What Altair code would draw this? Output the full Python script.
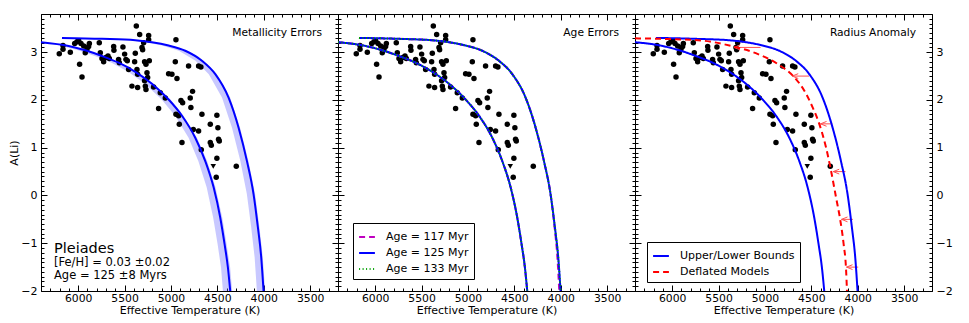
import altair as alt
import pandas as pd

W, H = 297, 277
FONT = "DejaVu Sans"

# ---------------- data ----------------
star_T = [6203, 6163, 6163, 6084, 6037, 6012, 5994, 5969, 5984, 5958, 5940, 5923, 5905, 5879, 5887,
          5772, 5761, 5743, 5725, 5700, 5678, 5664, 5617, 5614, 5564, 5556, 5517, 5499, 5485, 5470,
          5456, 5420, 5391, 5384, 5373, 5359, 5366, 5359, 5337, 5312, 5305, 5294, 5284, 5269, 5284,
          5276, 5269, 5258, 5251, 5240, 5240, 5233, 5187, 5115, 5133, 5061, 5025, 4989, 4946, 4953,
          4935, 4946, 4917, 4910, 4881, 4892, 4874, 4810, 4792, 4785, 4767, 4759, 4702, 4702, 4677,
          4666, 4673, 4576, 4576, 4565, 4505, 4494, 4487, 4479, 4505, 4512, 4296]
star_A = [2.97, 3.14, 3.06, 3.00, 3.18, 3.22, 3.24, 3.18, 2.75, 2.48, 3.13, 2.99, 3.06, 3.18, 3.12,
          3.20, 2.99, 2.87, 2.80, 2.89, 2.92, 2.87, 3.12, 3.04, 2.85, 2.78, 3.11, 2.96, 2.85, 2.82,
          2.64, 2.29, 2.80, 2.98, 3.55, 2.26, 2.64, 2.54, 3.37, 3.10, 3.05, 3.20, 2.80, 2.75, 2.40,
          2.29, 2.22, 2.57, 2.47, 3.35, 3.26, 2.82, 2.27, 2.15, 1.82, 2.04, 2.55, 2.54, 3.26, 2.80,
          2.45, 1.70, 1.67, 1.49, 1.11, 1.99, 1.94, 2.71, 2.04, 1.84, 2.18, 1.38, 1.35, 2.71, 2.69,
          1.70, 0.96, 1.49, 1.11, 1.05, 1.68, 1.42, 1.18, 1.14, 0.78, 0.38, 0.61]
limit_T = [4544]
limit_A = [0.61]

lower_T = [6400, 6102, 5923, 5743, 5564, 5384, 5205, 5025, 4881, 4738, 4630, 4540, 4469, 4422, 4386, 4361]
lower_A = [3.21, 3.13, 3.04, 2.92, 2.78, 2.59, 2.34, 2.01, 1.67, 1.21, 0.72, 0.17, -0.46, -1.02, -1.51, -2.0]
upper_T = [6174, 5743, 5384, 5205, 5025, 4846, 4666, 4522, 4379, 4271, 4181, 4110, 4063, 4027, 4002]
upper_A = [3.30, 3.28, 3.25, 3.21, 3.14, 3.03, 2.82, 2.54, 2.05, 1.42, 0.72, 0.03, -0.67, -1.30, -2.0]

# metallicity error bands (hot edge, cool edge at given A)
band_lo_A = [3.13, 3.04, 2.92, 2.78, 2.59, 2.34, 2.01, 1.67, 1.21, 0.72, 0.17, -0.46, -1.02, -1.51, -2.0]
band_lo_hot = [6180, 6000, 5820, 5640, 5460, 5280, 5100, 4955, 4810, 4705, 4615, 4545, 4497, 4460, 4440]
band_lo_cool = [6085, 5905, 5725, 5545, 5365, 5185, 5005, 4865, 4720, 4610, 4520, 4447, 4400, 4362, 4340]
band_up_A = [3.28, 3.25, 3.21, 3.14, 3.03, 2.82, 2.54, 2.05, 1.42, 0.72, 0.03, -0.67, -1.30, -2.0]
band_up_hot = [5815, 5455, 5275, 5095, 4915, 4735, 4592, 4450, 4342, 4252, 4182, 4135, 4098, 4074]
band_up_cool = [5725, 5365, 5185, 5005, 4828, 4650, 4505, 4362, 4255, 4165, 4093, 4046, 4010, 3985]

# age errors: 117 Myr upper branch drifts slightly hotter at the bottom
age117_upper_T = [6174, 5743, 5384, 5205, 5025, 4846, 4666, 4522, 4379, 4271, 4181, 4110, 4066, 4036, 4016]
age117_upper_A = [3.30, 3.28, 3.25, 3.21, 3.14, 3.03, 2.82, 2.54, 2.05, 1.42, 0.72, 0.03, -0.67, -1.30, -2.0]
age_labels = ["Age = 117 Myr", "Age = 125 Myr", "Age = 133 Myr"]
age_colors = ["#bf00bf", "#0000ff", "#00a000"]

# radius anomaly: deflated model
red_T = [6400, 5720, 5362, 5075, 4860, 4681, 4574, 4485, 4413, 4341, 4288, 4234, 4187, 4152, 4127, 4116]
red_A = [3.29, 3.25, 3.13, 2.96, 2.75, 2.47, 2.19, 1.84, 1.49, 1.00, 0.52, -0.04, -0.53, -1.02, -1.51, -2.0]
arrow_A = [3.1, 2.5, 1.5, 0.5, -0.5, -1.5]
arrow_from = [5047, 4526, 4275, 4132, 4052, 3995]
arrow_to = [5334, 4706, 4401, 4264, 4175, 4121]
rad_labels = ["Upper/Lower Bounds", "Deflated Models"]

x_major = [3500, 4000, 4500, 5000, 5500, 6000]
x_minor = list(range(3200, 6401, 100))
y_major = [-2, -1, 0, 1, 2, 3]
y_minor = [round(-2 + 0.1 * i, 1) for i in range(59)]

# ---------------- tables ----------------
stars = pd.DataFrame({"T": star_T, "A": star_A})
limits = pd.DataFrame({"T": limit_T, "A": limit_A})
dummy = pd.DataFrame({"T": [6400], "A": [-2.0]})

curves = pd.concat([
    pd.DataFrame({"T": lower_T, "A": lower_A, "part": "lower"}),
    pd.DataFrame({"T": upper_T, "A": upper_A, "part": "upper"}),
])
band_lo = pd.DataFrame({"A": band_lo_A, "hot": band_lo_hot, "cool": band_lo_cool})
band_up = pd.DataFrame({"A": band_up_A, "hot": band_up_hot, "cool": band_up_cool})
age_rows = []
for lab in age_labels:
    age_rows.append(pd.DataFrame({"T": lower_T, "A": lower_A, "part": "lower", "series": lab}))
    if lab == "Age = 117 Myr":
        age_rows.append(pd.DataFrame({"T": age117_upper_T, "A": age117_upper_A, "part": "upper", "series": lab}))
    else:
        age_rows.append(pd.DataFrame({"T": upper_T, "A": upper_A, "part": "upper", "series": lab}))
ages = pd.concat(age_rows)
rad = pd.concat([
    pd.DataFrame({"T": lower_T, "A": lower_A, "part": "lower", "series": rad_labels[0]}),
    pd.DataFrame({"T": upper_T, "A": upper_A, "part": "upper", "series": rad_labels[0]}),
    pd.DataFrame({"T": red_T, "A": red_A, "part": "red", "series": rad_labels[1]}),
])
arrows = pd.DataFrame({"A": arrow_A, "T0": arrow_from, "T1": arrow_to})

# ---------------- scales / axes ----------------
xscale = alt.Scale(domain=[3200, 6400], reverse=True, nice=False, zero=False)
yscale = alt.Scale(domain=[-2, 3.8], nice=False, zero=False)
tick_x = {"condition": {"test": "datum.value % 500 === 0", "value": 6}, "value": 3}
tick_y = {"condition": {"test": "abs(datum.value - round(datum.value)) < 0.001", "value": 6}, "value": 3}


def X(field="T", axis=None):
    return alt.X(f"{field}:Q", scale=xscale, axis=axis)


def Y(field="A", axis=None):
    return alt.Y(f"{field}:Q", scale=yscale, axis=axis)


def tick_layers():
    a = alt.Chart(dummy).mark_point(opacity=0).encode(
        x=X(axis=alt.Axis(orient="top", offset=-H, values=x_minor, tickSize=tick_x, labels=False,
                          domain=False, grid=False, title=None, tickColor="black")),
        y=Y(axis=alt.Axis(orient="right", offset=-W, values=y_minor, tickSize=tick_y, labels=False,
                          domain=False, grid=False, title=None, tickColor="black")),
    )
    b = alt.Chart(dummy).mark_point(opacity=0).encode(
        x=X(axis=alt.Axis(orient="bottom", offset=-H, values=x_minor, tickSize=tick_x, labels=False,
                          domain=False, grid=False, title=None, tickColor="black")),
        y=Y(axis=alt.Axis(orient="left", offset=-W, values=y_minor, tickSize=tick_y, labels=False,
                          domain=False, grid=False, title=None, tickColor="black")),
    )
    return [a, b]


def main_layer(yorient):
    xa = alt.Axis(orient="bottom", values=x_major, format="d", ticks=False, domain=False, grid=False,
                  labelPadding=1, labelFontSize=10.8, title="Effective Temperature (K)", titlePadding=2)
    if yorient == "left":
        ya = alt.Axis(orient="left", values=y_major, format="d", ticks=False, domain=False, grid=False,
                      labelPadding=4, title="A(Li)", titlePadding=1)
    elif yorient == "right":
        ya = alt.Axis(orient="right", values=y_major, format="d", ticks=False, domain=False, grid=False,
                      labelPadding=4, title=None)
    else:
        ya = None
    return alt.Chart(dummy).mark_point(opacity=0).encode(x=X(axis=xa), y=Y(axis=ya))


def star_layers():
    dots = alt.Chart(stars).mark_circle(size=30, color="black", opacity=1).encode(x=X(), y=Y())
    tri = alt.Chart(limits).mark_point(shape="triangle-down", filled=True, size=30, color="black",
                                       opacity=1).encode(x=X(), y=Y())
    return [dots, tri]


def label(text, x, y, size, align="left"):
    return alt.Chart(dummy).mark_text(text=text, align=align, baseline="middle", fontSize=size,
                                      font=FONT, color="black").encode(x=alt.value(x), y=alt.value(y))


def legend(x, y):
    return alt.Legend(orient="none", legendX=x, legendY=y, title=None, symbolType="stroke",
                      symbolSize=250, symbolStrokeWidth=2, labelFontSize=11, labelFont=FONT,
                      labelColor="black", strokeColor="black", fillColor="white", padding=5,
                      rowPadding=2, labelOffset=10, cornerRadius=0)


def panel(layers):
    return alt.layer(*layers).resolve_axis(x="independent", y="independent").properties(width=W, height=H)


def band_chart(df):
    return alt.Chart(df).mark_area(orient="horizontal", color="#6060ff", fillOpacity=0.35).encode(
        y=Y(), x=X("hot"), x2=alt.X2("cool"))


# ---------- panel 1: metallicity errors ----------
lines1 = alt.Chart(curves).mark_line(color="#0000ff", strokeWidth=2, interpolate="monotone").encode(
    x=X(), y=Y(), detail="part:N")
p1 = panel([main_layer("left")] + tick_layers() + [band_chart(band_lo), band_chart(band_up)] + star_layers() + [
    lines1,
    label("Metallicity Errors", W - 16, 19, 10.7, align="right"),
    label("Pleiades", 13, 235, 14.5),
    label("[Fe/H] = 0.03 \u00b10.02", 13, 249, 11.5),
    label("Age = 125 \u00b18 Myrs", 13, 262, 11.5),
])

# ---------- panel 2: age errors ----------
lines2 = alt.Chart(ages).mark_line(strokeWidth=2, interpolate="monotone").encode(
    x=X(), y=Y(), detail="part:N",
    color=alt.Color("series:N", scale=alt.Scale(domain=age_labels, range=age_colors), legend=legend(15, 209)),
    strokeDash=alt.StrokeDash("series:N", scale=alt.Scale(domain=age_labels, range=[[6, 4], [1, 0], [1, 2.5]]),
                              legend=legend(15, 209)),
)
p2 = panel([main_layer(None)] + tick_layers() + star_layers() + [
    lines2,
    label("Age Errors", W - 16, 19, 10.7, align="right"),
])

# ---------- panel 3: radius anomaly ----------
lines3 = alt.Chart(rad).mark_line(strokeWidth=2, interpolate="monotone").encode(
    x=X(), y=Y(), detail="part:N",
    color=alt.Color("series:N", scale=alt.Scale(domain=rad_labels, range=["#0000ff", "#ff0000"]),
                    legend=legend(12, 228)),
    strokeDash=alt.StrokeDash("series:N", scale=alt.Scale(domain=rad_labels, range=[[1, 0], [6, 4]]),
                              legend=legend(12, 228)),
)
shafts = alt.Chart(arrows).mark_rule(color="#ff5050", strokeWidth=1).encode(x=X("T0"), x2=alt.X2("T1"), y=Y())
heads = alt.Chart(arrows).mark_point(shape="M2,-0.8L0,0L2,0.8", size=36, filled=False, color="#ff5050",
                                     strokeWidth=1, opacity=1).encode(x=X("T1"), y=Y())
p3 = panel([main_layer("right")] + tick_layers() + star_layers() + [
    shafts, heads, lines3,
    label("Radius Anomaly", W - 16, 19, 10.7, align="right"),
])

chart = alt.hconcat(p1, p2, p3, spacing=0, bounds="flush").resolve_scale(
    color="independent", strokeDash="independent"
).properties(
    padding={"left": 0, "top": 5, "right": 5, "bottom": 0}
).configure(font=FONT).configure_axis(
    labelFont=FONT, titleFont=FONT, labelFontSize=11, titleFontSize=11, titleFontWeight="normal",
    labelColor="black", titleColor="black",
).configure_view(stroke="black", strokeWidth=1)

chart.save("out.html", embed_options={"renderer": "svg", "actions": False})
